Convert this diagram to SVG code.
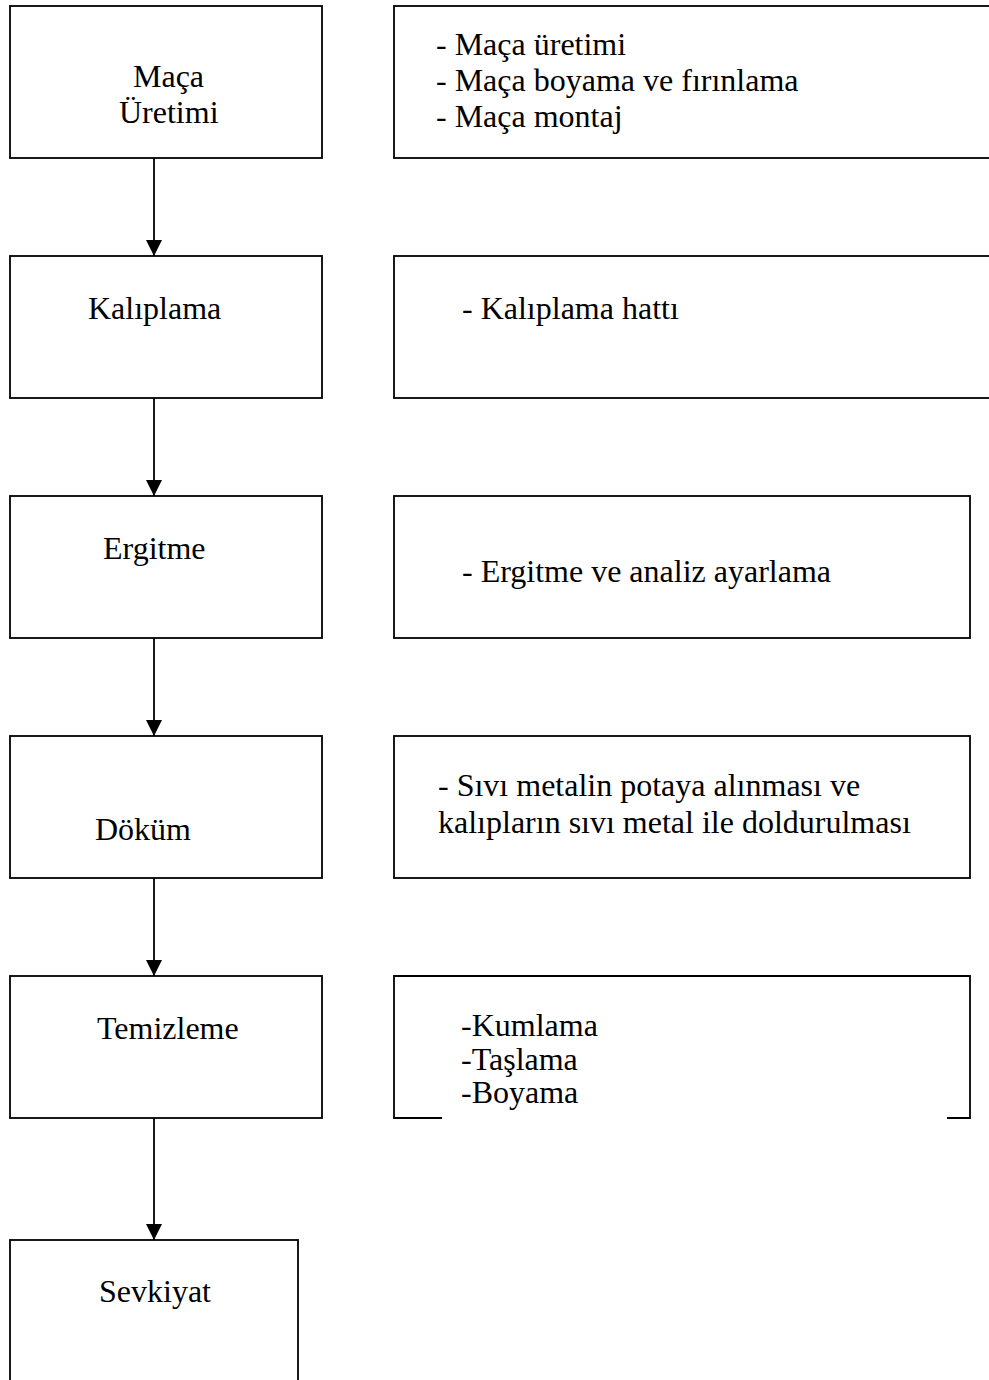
<svg xmlns="http://www.w3.org/2000/svg" width="989" height="1380" viewBox="0 0 989 1380">
<style>
.box{fill:#fff;stroke:#000;stroke-width:1.8}
.t{font-family:"Liberation Serif","Times New Roman",serif;font-size:32px;fill:#000}
.edge{stroke:#000;stroke-width:1.8;fill:none}
</style>
<defs>
<marker id="ah" viewBox="0 0 16 16" refX="16" refY="8" markerWidth="16" markerHeight="16" markerUnits="userSpaceOnUse" orient="auto">
<path d="M0,0 L16,8 L0,16 Z" fill="#000"/>
</marker>
</defs>
<rect width="989" height="1380" fill="#fff"/>
<g id="connectors">
<line class="edge" x1="154" y1="158" x2="154" y2="256" marker-end="url(#ah)"/>
<line class="edge" x1="154" y1="398" x2="154" y2="496" marker-end="url(#ah)"/>
<line class="edge" x1="154" y1="638" x2="154" y2="736" marker-end="url(#ah)"/>
<line class="edge" x1="154" y1="878" x2="154" y2="976" marker-end="url(#ah)"/>
<line class="edge" x1="154" y1="1118" x2="154" y2="1240" marker-end="url(#ah)"/>
</g>
<g id="n1">
<rect class="box" x="10" y="6" width="312" height="152"/>
<text class="t" x="133" y="87">Maça</text>
<text class="t" x="119" y="123">Üretimi</text>
</g>
<g id="n1d">
<rect class="box" x="394" y="6" width="610" height="152"/>
<text class="t" x="436" y="55">- Maça üretimi</text>
<text class="t" x="436" y="91">- Maça boyama ve fırınlama</text>
<text class="t" x="436" y="127">- Maça montaj</text>
</g>
<g id="n2">
<rect class="box" x="10" y="256" width="312" height="142"/>
<text class="t" x="88" y="319">Kalıplama</text>
</g>
<g id="n2d">
<rect class="box" x="394" y="256" width="610" height="142"/>
<text class="t" x="462" y="319">- Kalıplama hattı</text>
</g>
<g id="n3">
<rect class="box" x="10" y="496" width="312" height="142"/>
<text class="t" x="103" y="559">Ergitme</text>
</g>
<g id="n3d">
<rect class="box" x="394" y="496" width="576" height="142"/>
<text class="t" x="462" y="582">- Ergitme ve analiz ayarlama</text>
</g>
<g id="n4">
<rect class="box" x="10" y="736" width="312" height="142"/>
<text class="t" x="95" y="840">Döküm</text>
</g>
<g id="n4d">
<rect class="box" x="394" y="736" width="576" height="142"/>
<text class="t" x="438" y="796">- Sıvı metalin potaya alınması ve</text>
<text class="t" x="438" y="833">kalıpların sıvı metal ile doldurulması</text>
</g>
<g id="n5">
<rect class="box" x="10" y="976" width="312" height="142"/>
<text class="t" x="97" y="1039">Temizleme</text>
</g>
<g id="n5d">
<path class="edge" d="M442,1118 H394 V976 H970 V1118 H947"/>
<text class="t" x="461" y="1036">-Kumlama</text>
<text class="t" x="461" y="1070">-Taşlama</text>
<text class="t" x="461" y="1103">-Boyama</text>
</g>
<g id="n6">
<rect class="box" x="10" y="1240" width="288" height="160"/>
<text class="t" x="99" y="1302">Sevkiyat</text>
</g>
</svg>
